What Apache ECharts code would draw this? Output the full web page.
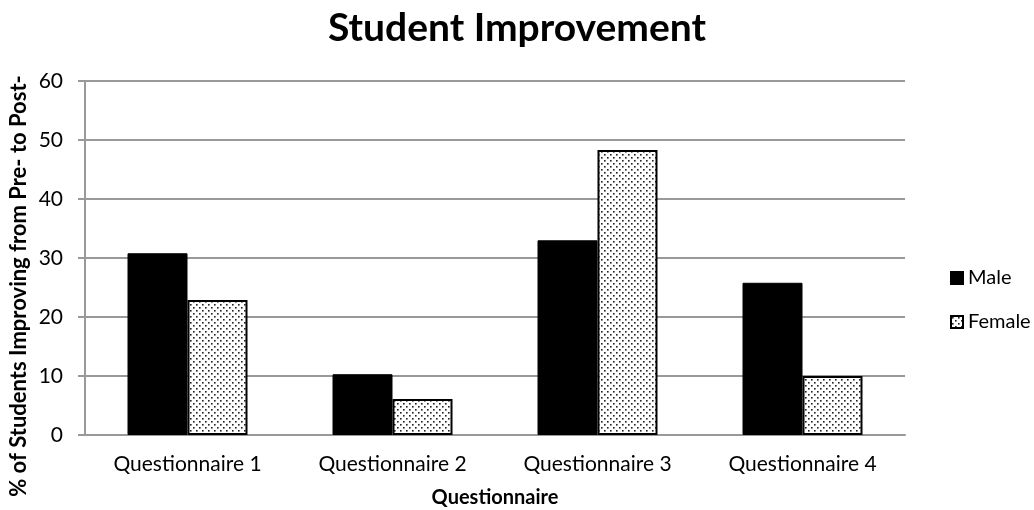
<!DOCTYPE html>
<html>
<head>
<meta charset="utf-8">
<script src="https://cdn.jsdelivr.net/npm/echarts@6/dist/echarts.min.js"></script>
<style>
  html, body { margin: 0; padding: 0; background: #fff; }
  #chart { width: 1034px; height: 510px; }
</style>
</head>
<body>
<div id="chart"></div>
<script>
var categories = ['Questionnaire 1', 'Questionnaire 2', 'Questionnaire 3', 'Questionnaire 4'];
var maleValues = [30.8, 10.3, 33.0, 25.8];
var femaleValues = [22.9, 6.1, 48.3, 10.0];

// dotted fill for the Female bars
function dotPattern() {
  var c = document.createElement('canvas');
  c.width = 6; c.height = 6;
  var ctx = c.getContext('2d');
  ctx.fillStyle = '#fff';
  ctx.fillRect(0, 0, 6, 6);
  ctx.fillStyle = '#222';
  ctx.fillRect(1, 1, 1.6, 1.6);
  ctx.fillRect(4, 4, 1.6, 1.6);
  return c;
}

var font = 'Lato, "Open Sans", sans-serif';
var chart = echarts.init(document.getElementById('chart'));
chart.setOption({
  animation: false,
  title: {
    text: 'Student Improvement',
    left: 'center',
    top: 4,
    textStyle: { fontFamily: font, fontSize: 39, fontWeight: 'bold', color: '#000' }
  },
  legend: {
    orient: 'vertical',
    left: 945,
    top: 263,
    itemGap: 24,
    itemWidth: 12,
    itemHeight: 12,
    icon: 'rect',
    textStyle: { fontFamily: font, fontSize: 20, color: '#000' },
    data: ['Male', 'Female']
  },
  grid: { left: 85, right: 129, top: 81, bottom: 75, outerBoundsMode: 'none' },
  // y axis title sits a bit below the plot's middle, so it is placed by hand
  graphic: [{
    type: 'text',
    x: 19,
    y: 286,
    rotation: Math.PI / 2,
    style: {
      text: '% of Students Improving from Pre- to Post-',
      font: 'bold 22px ' + font,
      fill: '#000',
      align: 'center',
      verticalAlign: 'middle'
    }
  }],
  xAxis: {
    type: 'category',
    data: categories,
    name: 'Questionnaire',
    nameLocation: 'middle',
    nameGap: 53,
    nameTextStyle: { fontFamily: font, fontSize: 20, fontWeight: 'bold', color: '#000' },
    axisLine: { lineStyle: { color: '#999', width: 2 } },
    axisTick: { show: false },
    axisLabel: { fontFamily: font, fontSize: 21, color: '#000', margin: 19 }
  },
  yAxis: {
    type: 'value',
    min: 0,
    max: 60,
    interval: 10,
    axisLine: { show: true, lineStyle: { color: '#999', width: 2 } },
    axisTick: { show: true, length: 7, lineStyle: { color: '#999', width: 2 } },
    axisLabel: { fontFamily: font, fontSize: 21, color: '#000', margin: 22 },
    splitLine: { lineStyle: { color: '#999', width: 2 } }
  },
  series: [
    {
      name: 'Male',
      type: 'bar',
      data: maleValues,
      barWidth: 60,
      barGap: '0%',
      itemStyle: { color: '#000', borderColor: '#000', borderWidth: 1 }
    },
    {
      name: 'Female',
      type: 'bar',
      data: femaleValues,
      barWidth: 60,
      itemStyle: {
        color: { image: dotPattern(), repeat: 'repeat' },
        borderColor: '#000',
        borderWidth: 2
      }
    }
  ]
});
</script>
</body>
</html>
